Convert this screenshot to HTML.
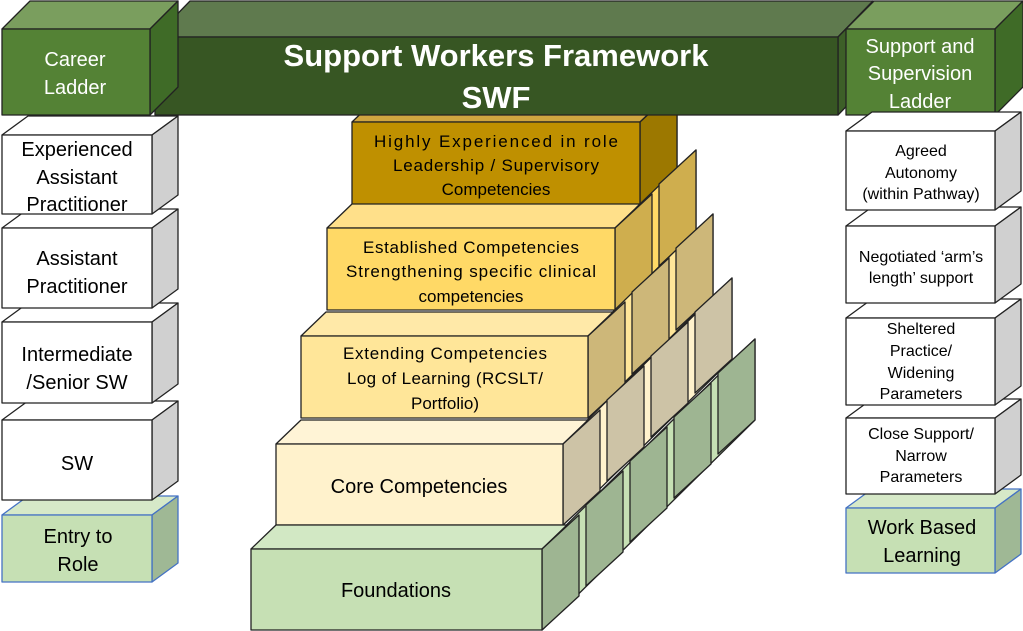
<!DOCTYPE html>
<html><head><meta charset="utf-8">
<style>
html,body{margin:0;padding:0;background:#fff;}
svg{display:block;}
text{font-family:"Liberation Sans",sans-serif;}
</style></head>
<body>
<svg id="s" width="1023" height="631" viewBox="0 0 1023 631" xmlns="http://www.w3.org/2000/svg">
<g id="shapes" stroke="#222" stroke-width="1.3" stroke-linejoin="round"></g>
<g id="txt" text-anchor="middle">
<text x="75" y="66" font-size="20" fill="#fff">Career</text>
<text x="75" y="94" font-size="20" fill="#fff">Ladder</text>
<text x="496" y="66" font-size="31" font-weight="bold" fill="#fff">Support Workers Framework</text>
<text x="496" y="108" font-size="31" font-weight="bold" fill="#fff">SWF</text>
<text x="920" y="53" font-size="20" fill="#fff">Support and</text>
<text x="920" y="80" font-size="20" fill="#fff">Supervision</text>
<text x="920" y="108" font-size="20" fill="#fff">Ladder</text>

<text x="77" y="156" font-size="20" fill="#000">Experienced</text>
<text x="77" y="184" font-size="20" fill="#000">Assistant</text>
<text x="77" y="211" font-size="20" fill="#000">Practitioner</text>
<text x="77" y="265" font-size="20" fill="#000">Assistant</text>
<text x="77" y="293" font-size="20" fill="#000">Practitioner</text>
<text x="77" y="361" font-size="20" fill="#000">Intermediate</text>
<text x="77" y="389" font-size="20" fill="#000">/Senior SW</text>
<text x="77" y="470" font-size="20" fill="#000">SW</text>
<text x="78" y="543" font-size="20" fill="#000">Entry to</text>
<text x="78" y="571" font-size="20" fill="#000">Role</text>

<text x="921" y="156" font-size="16" fill="#000">Agreed</text>
<text x="921" y="178" font-size="16" fill="#000">Autonomy</text>
<text x="921" y="199" font-size="16" fill="#000">(within Pathway)</text>
<text x="921" y="262" font-size="16" fill="#000">Negotiated ‘arm’s</text>
<text x="921" y="283" font-size="16" fill="#000">length’ support</text>
<text x="921" y="334" font-size="16" fill="#000">Sheltered</text>
<text x="921" y="356" font-size="16" fill="#000">Practice/</text>
<text x="921" y="378" font-size="16" fill="#000">Widening</text>
<text x="921" y="399" font-size="16" fill="#000">Parameters</text>
<text x="921" y="439" font-size="16" fill="#000">Close Support/</text>
<text x="921" y="461" font-size="16" fill="#000">Narrow</text>
<text x="921" y="482" font-size="16" fill="#000">Parameters</text>
<text x="922" y="534" font-size="20" fill="#000">Work Based</text>
<text x="922" y="562" font-size="20" fill="#000">Learning</text>

<text x="496" y="147" font-size="17" fill="#000" textLength="244" lengthAdjust="spacing">Highly Experienced  in role</text>
<text x="496" y="171" font-size="17" fill="#000" textLength="206" lengthAdjust="spacing">Leadership / Supervisory</text>
<text x="496" y="195" font-size="17" fill="#000">Competencies</text>
<text x="471" y="253" font-size="17" fill="#000" textLength="216" lengthAdjust="spacing">Established Competencies</text>
<text x="471" y="277" font-size="17" fill="#000" textLength="250" lengthAdjust="spacing">Strengthening specific clinical</text>
<text x="471" y="302" font-size="17" fill="#000">competencies</text>
<text x="445" y="359" font-size="17" fill="#000" textLength="204" lengthAdjust="spacing">Extending Competencies</text>
<text x="445" y="384" font-size="17" fill="#000" textLength="196" lengthAdjust="spacing">Log of Learning (RCSLT/</text>
<text x="445" y="409" font-size="17" fill="#000">Portfolio)</text>
<text x="419" y="493" font-size="20" fill="#000">Core Competencies</text>
<text x="396" y="597" font-size="20" fill="#000">Foundations</text>
</g>
</svg>
<script>
var g=document.getElementById('shapes'),NS='http://www.w3.org/2000/svg';
function poly(pts,fill,stroke){var p=document.createElementNS(NS,'polygon');p.setAttribute('points',pts.map(function(a){return a.join(',')}).join(' '));p.setAttribute('fill',fill);if(stroke)p.setAttribute('stroke',stroke);g.appendChild(p);}
function box(x,y,w,h,dx,dy,front,top,side,stroke){
 poly([[x,y],[x+dx,y-dy],[x+w+dx,y-dy],[x+w,y]],top,stroke);
 poly([[x+w,y],[x+w+dx,y-dy],[x+w+dx,y+h-dy],[x+w,y+h]],side,stroke);
 poly([[x,y],[x+w,y],[x+w,y+h],[x,y+h]],front,stroke);
}
var T=[
 [352,122,288,84,1,'#bf9000','#cfa640','#9c7800','#ffd966'],
 [327,228,288,82,2,'#ffd966','#ffe08a','#cfae4e','#ffd966'],
 [301,336,287,82,3,'#ffe699','#ffe9a8','#cdb779','#ffe699'],
 [276,444,287,81,4,'#fff2cc','#fff4d6','#cdc3a6','#fff2cc'],
 [251,549,291,81,5,'#c6e0b4','#d2e8c4','#9eb592','#c6e0b4']];
T.forEach(function(t){
 var x=t[0],y=t[1],w=t[2],h=t[3],n=t[4],S=44,bw=37,br=34;
 var ex=x+w;
 var far=(n-1)*S;
 poly([[ex,y],[ex+far+bw,y-far-br],[ex+far+bw,y-far-br+h],[ex,y+h]],t[8]);
 for(var k=n-1;k>=1;k--){
  var bx=ex+k*S,by=y-k*S;
  poly([[bx,by],[bx+bw,by-br],[bx+bw,by-br+h],[bx,by+h]],t[7]);
 }
 poly([[x,y],[x+25,y-24],[ex+25,y-24],[ex,y]],t[6]);
 poly([[ex,y],[ex+bw,y-br],[ex+bw,y-br+h],[ex,y+h]],t[7]);
 poly([[x,y],[ex,y],[ex,y+h],[x,y+h]],t[5]);
});
box(155,37,683,78,35,36,'#375623','#5f7a4e','#3d5f28');
box(2,29,148,86,28,28,'#548235','#7a9e5e','#3f6b27');
box(846,29,149,86,28,28,'#548235','#7a9e5e','#3f6b27');
box(2,515,150,67,26,19,'#c6e0b4','#d6e9c8','#9fb895','#4472c4');
var L=[[420,80],[322,81],[228,80],[135,79]];
L.forEach(function(b){box(2,b[0],150,b[1],26,19,'#fff','#fff','#d0d0d0');});
box(846,508,149,65,26,19,'#c6e0b4','#d6e9c8','#9fb895','#4472c4');
var R=[[418,76],[318,87],[226,77],[131,79]];
R.forEach(function(b){box(846,b[0],149,b[1],26,19,'#fff','#fff','#d0d0d0');});
</script>
</body></html>
